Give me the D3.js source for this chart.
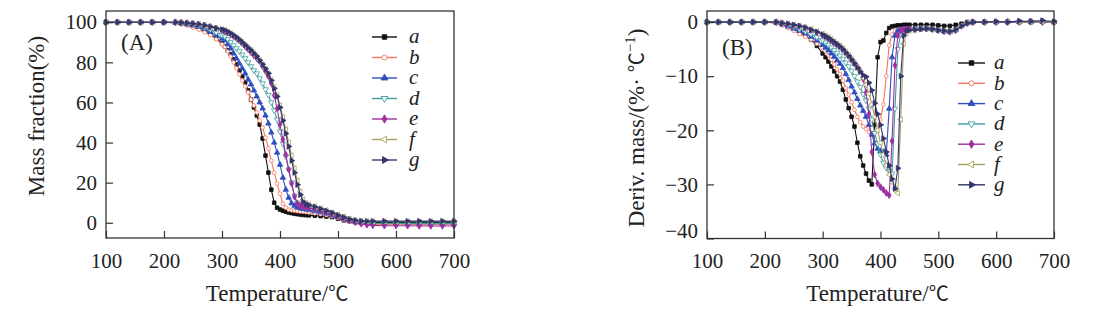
<!DOCTYPE html>
<html>
<head>
<meta charset="utf-8">
<script src="https://cdn.jsdelivr.net/npm/d3@7"></script>
<style>
  body { margin: 0; background: #fff; }
  svg { display: block; font-family: "Liberation Serif", "Noto Sans CJK SC", serif; }
  .tick text { font-family: "Liberation Serif", serif; }
</style>
</head>
<body>
<div id="chart"></div>
<script>

// temperature grid (°C) shared by all curves
const temps = [100,120,140,160,180,200,220,230,240,250,260,270,280,290,300,
  305,310,315,320,325,330,335,340,345,350,355,360,365,370,375,380,385,390,395,400,405,410,415,420,425,430,435,440,445,450,
  460,470,480,490,500,510,520,530,540,550,560,580,600,620,640,660,680,700];

const seriesNames = ["a", "b", "c", "d", "e", "f", "g"];
const seriesColors = ["#111111", "#f5765c", "#2f4fc0", "#3d9e9e", "#a02ea0", "#a6a05a", "#34346e"];

// (A) mass fraction, %
const tgA = [100,100,100,100,100,100,99.8,99.5,99,98.3,97.3,96,94.3,92,89.5,
  88,86,84,81.5,79,76,73,70,66,61.5,57.5,53.5,49,42,33.5,25,16.5,10,7.5,6.6,6,5.5,5.1,4.8,4.5,4.3,4.1,3.9,3.8,3.7,
  3.5,3.3,3.1,2.8,2,1.2,0.7,0.4,0.3,0.2,0.2,0.2,0.2,0.2,0.2,0.2,0.2,0.2];
const tgB = [100,100,100,100,100,100,99.5,99,98.3,97.3,96.3,95,93.5,91.5,89,
  87.8,85.5,83,80,77,74,71,68,65,61.5,58.5,55,51,47.5,42.5,37,31,25,19.5,14.5,9.5,7.5,6.5,6.2,6,5.8,5.6,5.5,5.3,5.1,
  4.7,4.3,3.8,3.2,2.4,1.4,0.5,-0.2,-0.6,-0.8,-0.9,-0.9,-1,-1,-1,-1,-1,-1];
const tgC = [100,100,100,100,100,100,99.8,99.5,99,98.4,97.7,96.6,95.2,93.5,91.8,
  91,89,87,84.5,82,79.5,77,74.5,71.5,69,66,63,60,57,53.5,49.5,45,40,35,29,22.5,16.5,12.5,9.7,8.5,7.7,7.2,6.9,6.6,6.3,
  5.8,5.2,4.6,3.8,3,2,1,0.3,0,-0.3,-0.4,-0.4,-0.4,-0.5,-0.5,-0.5,-0.5,-0.5];
const tgD = [100,100,100,100,100,100,99.8,99.6,99.3,98.8,98.2,97.4,96.4,95,93.5,
  92.8,91.5,90,88.5,87,85.5,83.8,82,80,78,76,74.5,72,69.5,66.5,63.7,60,56,51.5,45.5,39.5,33,26.5,20,13.5,10,8.7,8,7.6,7.2,
  6.6,5.9,5.1,4.2,3.3,2.3,1.3,0.5,0.1,-0.2,-0.3,-0.3,-0.3,-0.3,-0.3,-0.3,-0.3,-0.3];
const tgE = [100,100,100,100,100,100,100,99.8,99.6,99.3,98.9,98.4,97.7,96.9,96,
  95.5,94.8,94,93,92,90.8,89.5,88,86.5,85,83.5,82,80.5,78,75.5,73,69.5,63.5,57,49,41.5,34,26.5,19.5,13,9.5,8.5,8,7.6,7.3,
  6.7,6,5.2,4.3,3.3,2.2,1.2,0.3,-0.5,-1,-1.3,-1.5,-1.5,-1.5,-1.6,-1.6,-1.6,-1.6];
const tgF = [100,100,100,100,100,100,100,99.8,99.6,99.3,99,98.5,97.8,97,96.3,
  95.9,95.2,94.4,93.4,92.4,91.2,89.9,88.6,87.2,85.9,84.4,82.9,81,79,76.8,74.5,71.2,67.5,63.5,58.5,52.5,46.5,40,33.5,27,21,15.5,11.5,9.8,9.1,
  8.2,7.2,6.2,5.1,4,3,2,1.3,0.9,0.7,0.6,0.6,0.6,0.6,0.6,0.6,0.6,0.6];
const tgG = [100,100,100,100,100,100,100,99.8,99.6,99.3,99,98.5,97.8,97,96.4,
  96,95.3,94.5,93.5,92.5,91.3,90,88.7,87.3,86,84.5,83,81,79,76.8,74.5,71,67,63,57.5,51,44.5,38,31,25,19,14,10.5,9.2,8.8,
  8,7,6,5,3.8,2.8,1.8,1.2,0.9,0.8,0.8,0.8,0.8,0.8,0.8,0.8,0.8,0.8];

// (B) derivative mass, %/°C
const dtgA = [0,0,0,0,0,0,-0.1,-0.4,-0.8,-1.2,-1.8,-2.5,-3.2,-4.4,-5.8,
  -6.5,-7.3,-8.2,-9.1,-10,-11,-12.5,-14.3,-15.9,-17.5,-19.3,-22.3,-24.8,-26.5,-28,-29.3,-30,-19,-6.5,-3.7,-3.4,-2,-1.1,-0.8,-0.7,-0.6,-0.6,-0.5,-0.5,-0.5,
  -0.5,-0.5,-0.5,-0.5,-0.6,-0.7,-0.7,-0.5,-0.3,0,0,0,0,0.1,0,0.2,0.1,0];
const dtgB = [0,0,0,0,0,0,-0.2,-0.6,-1.1,-1.6,-2.2,-2.7,-3.2,-4,-4.8,
  -5.4,-6.1,-6.9,-7.8,-8.7,-9.6,-10.8,-12.2,-13.4,-14.8,-16.2,-17.5,-18.5,-19.3,-19.8,-20.3,-20.6,-20.4,-19.5,-18,-15.2,-10,-4.3,-2.3,-1.7,-1.4,-1.3,-1.2,-1.2,-1.2,
  -1.2,-1.2,-1.2,-1.3,-1.5,-1.7,-1.8,-1.4,-0.7,-0.2,0,0,0,0,0.1,0,0.1,0];
const dtgC = [0,0,0,0,0,0,-0.1,-0.4,-0.8,-1.2,-1.6,-2.1,-2.7,-3.4,-4.2,
  -4.7,-5.2,-5.8,-6.4,-7.1,-7.7,-8.5,-9.6,-10.7,-11.9,-13,-14.2,-15.4,-16.4,-17.5,-19,-20.8,-22.4,-23.4,-23.8,-24,-24.5,-16,-6.5,-2.5,-1.6,-1.4,-1.3,-1.3,-1.3,
  -1.2,-1.2,-1.2,-1.3,-1.5,-1.7,-1.8,-1.5,-0.7,-0.2,0,0,0,0.1,0,0,0.1,0];
const dtgD = [0,0,0,0,0,0,0,-0.3,-0.6,-0.9,-1.3,-1.7,-2.2,-2.8,-3.4,
  -3.8,-4.2,-4.7,-5.2,-5.7,-6.2,-6.8,-7.5,-8.2,-9,-10,-11,-12,-13.3,-14.5,-16,-18,-20.5,-22.5,-24.5,-26,-27,-27.5,-28,-16,-5,-2.2,-1.5,-1.3,-1.3,
  -1.2,-1.2,-1.2,-1.3,-1.5,-1.7,-1.8,-1.5,-0.7,-0.2,0,0,0,0,0.1,0,0,0];
const dtgE = [0,0,0,0,0,0,0,-0.2,-0.4,-0.6,-0.8,-1.1,-1.5,-1.9,-2.4,
  -2.7,-3,-3.4,-3.8,-4.2,-4.6,-5.1,-5.7,-6.3,-7,-7.7,-8.3,-9,-10.5,-13,-17,-24,-28.2,-29.8,-30.5,-31,-31.6,-32,-22,-8,-2.5,-1.6,-1.4,-1.3,-1.3,
  -1.3,-1.2,-1.2,-1.3,-1.5,-1.7,-1.8,-1.5,-0.7,-0.2,0,0,0,0,0,0.1,0,0];
const dtgF = [0,0,0,0,0,0,0,-0.2,-0.3,-0.5,-0.7,-1,-1.3,-1.7,-2.2,
  -2.5,-2.8,-3.2,-3.6,-4,-4.4,-4.9,-5.5,-6.1,-6.8,-7.5,-8.3,-9.2,-10.3,-11.6,-13.2,-15.2,-17.5,-20,-22.3,-24.5,-26.5,-28.2,-29.6,-30.8,-31.6,-18,-4,-2,-1.6,
  -1.4,-1.3,-1.2,-1.3,-1.5,-1.6,-1.7,-1.4,-0.7,-0.2,0,0,0,0.1,0,0,0.1,0];
const dtgG = [0,0,0,0,0,0,0,-0.2,-0.3,-0.5,-0.7,-1,-1.4,-1.8,-2.3,
  -2.6,-2.9,-3.3,-3.7,-4.1,-4.5,-5,-5.6,-6.2,-6.9,-7.6,-8.4,-9.2,-9.8,-10.1,-11.2,-12.6,-15,-17,-19,-21.5,-24,-26.5,-29,-30.8,-27,-10,-2.5,-1.7,-1.5,
  -1.4,-1.3,-1.2,-1.3,-1.5,-1.6,-1.7,-1.4,-0.7,-0.2,0,0,0.1,0,0.2,0.1,0.3,0.1];

const xTicks = [100, 200, 300, 400, 500, 600, 700];
const yTicksA = [0, 20, 40, 60, 80, 100];
const yTicksB = [-40, -30, -20, -10, 0];

const tgData = [tgA, tgB, tgC, tgD, tgE, tgF, tgG];
const dtgData = [dtgA, dtgB, dtgC, dtgD, dtgE, dtgF, dtgG];

// marker per series: symbol, filled?, rotation
const markers = [
  { type: d3.symbolSquare, fill: true, rot: 0 },
  { type: d3.symbolCircle, fill: false, rot: 0 },
  { type: d3.symbolTriangle, fill: true, rot: 0 },
  { type: d3.symbolTriangle, fill: false, rot: 180 },
  { type: d3.symbolDiamond, fill: true, rot: 0 },
  { type: d3.symbolTriangle, fill: false, rot: -90 },
  { type: d3.symbolTriangle, fill: true, rot: 90 }
];

const W = 1106, H = 315;
const svg = d3.select("#chart").append("svg")
  .attr("width", W)
  .attr("height", H)
  .attr("viewBox", `0 0 ${W} ${H}`);

function drawPanel(opt) {
  const x = d3.scaleLinear().domain([100, 700]).range([opt.left, opt.right]);
  const y = d3.scaleLinear().domain(opt.yDomain).range([opt.bottom, opt.top]);
  const g = svg.append("g");

  // series
  const line = d3.line().x((d, i) => x(temps[i])).y(d => y(d));
  opt.data.forEach((vals, si) => {
    const col = seriesColors[si];
    const m = markers[si];
    g.append("path")
      .datum(vals)
      .attr("fill", "none")
      .attr("stroke", col)
      .attr("stroke-width", 1.1)
      .attr("d", line);
    const sym = d3.symbol().type(m.type).size(m.type === d3.symbolCircle ? 11 : 13);
    g.selectAll(null)
      .data(vals)
      .enter()
      .append("path")
        .attr("d", sym)
        .attr("transform", (d, i) => `translate(${x(temps[i])},${y(d)}) rotate(${m.rot})`)
        .attr("fill", m.fill ? col : "#fff")
        .attr("stroke", col)
        .attr("stroke-width", 0.8);
  });

  // frame
  g.append("rect")
    .attr("x", opt.left).attr("y", opt.top)
    .attr("width", opt.right - opt.left).attr("height", opt.bottom - opt.top)
    .attr("fill", "none").attr("stroke", "#333").attr("stroke-width", 1.3);

  const xAxis = g.append("g")
    .attr("transform", `translate(0,${opt.bottom})`)
    .call(d3.axisBottom(x).tickValues(xTicks).tickSizeInner(-7).tickSizeOuter(0).tickPadding(15).tickFormat(d3.format("d")));
  xAxis.select(".domain").remove();

  const yAxis = g.append("g")
    .attr("transform", `translate(${opt.left},0)`)
    .call(d3.axisLeft(y).tickValues(opt.yTicks).tickSizeInner(-7).tickSizeOuter(0).tickPadding(9));
  yAxis.select(".domain").remove();
  if (opt.lowLabelShift) {
    yAxis.selectAll(".tick text").filter(d => d === opt.yDomain[0]).attr("dy", "-0.05em");
  }

  [xAxis, yAxis].forEach(a => {
    a.attr("font-family", null);
    a.selectAll(".tick line").attr("stroke", "#333").attr("stroke-width", 1.2);
    a.selectAll(".tick text").attr("font-size", 21).attr("fill", "#222");
  });

  // axis titles
  const xt = g.append("text")
    .attr("x", (opt.left + opt.right) / 2 - 3)
    .attr("y", 301)
    .attr("text-anchor", "middle")
    .attr("font-size", 23)
    .attr("fill", "#222");
  xt.append("tspan").text("Temperature/");
  xt.append("tspan").attr("font-family", "Noto Sans CJK SC").attr("font-size", 20).text("℃");

  const yt = g.append("text")
    .attr("transform", `translate(${opt.yTitleX},${opt.yTitleY}) rotate(-90)`)
    .attr("text-anchor", "middle")
    .attr("font-size", 23)
    .attr("fill", "#222");
  opt.yTitle(yt);

  // panel tag
  g.append("text")
    .attr("x", opt.left + 15)
    .attr("y", opt.tagY)
    .attr("font-size", 23)
    .attr("fill", "#222")
    .text(opt.tag);

  // legend
  seriesNames.forEach((name, si) => {
    const col = seriesColors[si];
    const m = markers[si];
    const ly = opt.legY + si * opt.legStep;
    g.append("line")
      .attr("x1", opt.legX1).attr("x2", opt.legX2)
      .attr("y1", ly).attr("y2", ly)
      .attr("stroke", col).attr("stroke-width", 1.4);
    g.append("path")
      .attr("d", d3.symbol().type(m.type).size(20))
      .attr("transform", `translate(${(opt.legX1 + opt.legX2) / 2},${ly}) rotate(${m.rot})`)
      .attr("fill", m.fill ? col : "#fff")
      .attr("stroke", col)
      .attr("stroke-width", 0.9);
    g.append("text")
      .attr("x", opt.legTextX)
      .attr("y", ly)
      .attr("dy", "0.3em")
      .attr("font-size", 21)
      .attr("font-style", "italic")
      .attr("fill", "#222")
      .text(name);
  });
}

drawPanel({
  left: 106, right: 454, top: 11, bottom: 238,
  yDomain: [-7.6, 105.6], yTicks: yTicksA, data: tgData,
  yTitleX: 44, yTitleY: 116,
  yTitle: t => t.text("Mass fraction(%)"),
  tag: "(A)", tagY: 50,
  legX1: 372, legX2: 397, legTextX: 409, legY: 37, legStep: 20.5
});

drawPanel({
  left: 707, right: 1054, top: 11, bottom: 238.5,
  yDomain: [-40, 2.05], yTicks: yTicksB, data: dtgData, lowLabelShift: true,
  yTitleX: 644, yTitleY: 128,
  yTitle: t => {
    t.append("tspan").text("Deriv. mass/(%· ");
    t.append("tspan").attr("font-family", "Noto Sans CJK SC").attr("font-size", 20).text("℃");
    t.append("tspan").attr("font-size", 15).attr("dy", -9).text("−1");
    t.append("tspan").attr("dy", 9).text(")");
  },
  tag: "(B)", tagY: 55,
  legX1: 958, legX2: 985, legTextX: 994, legY: 63, legStep: 20.3
});

</script>
</body>
</html>
